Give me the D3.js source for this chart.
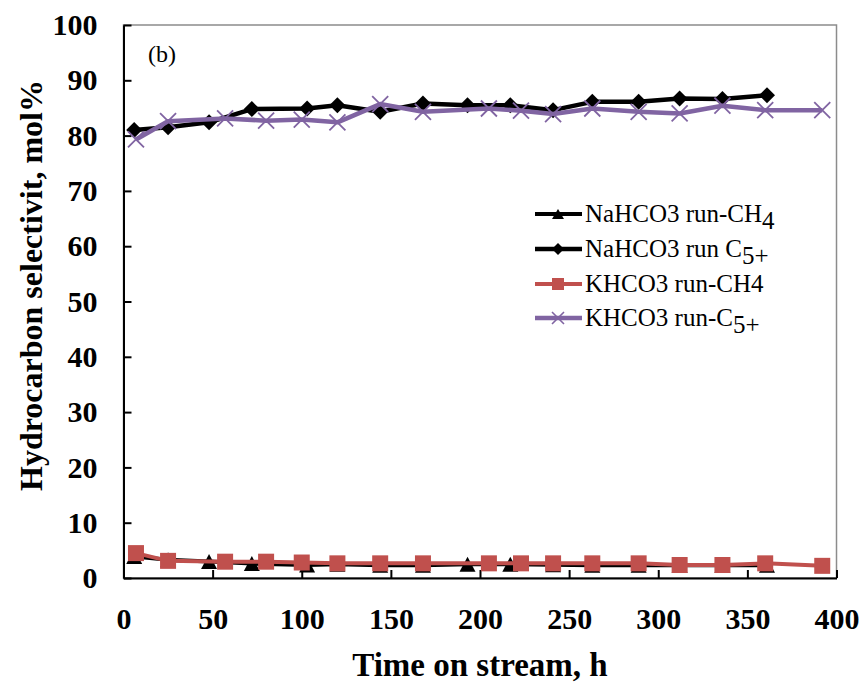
<!DOCTYPE html>
<html>
<head>
<meta charset="utf-8">
<script src="https://cdn.jsdelivr.net/npm/d3@7"></script>
<style>
  html, body { margin: 0; padding: 0; background: #fff; }
  svg { display: block; }
  text { font-family: "Liberation Serif", "Times New Roman", serif; }
</style>
</head>
<body>
<svg id="chart" width="864" height="682"></svg>
<script>
// Time on stream (h) for each run
const naTime = [6, 25, 48, 72, 103, 120, 144, 168, 193, 217, 241, 263, 289, 312, 336, 361];
const kTime  = [7, 25, 57, 80, 100, 120, 144, 168, 205, 223, 241, 263, 289, 312, 336, 360, 392];

// Hydrocarbon selectivity (mol%)
const naCH4 = [3.9, 3.3, 3.0, 2.6, 2.35, 2.5, 2.3, 2.3, 2.5, 2.5, 2.4, 2.3, 2.3, 2.3, 2.3, 2.3];
const naC5  = [81.0, 81.5, 82.4, 84.8, 84.9, 85.5, 84.3, 85.8, 85.5, 85.5, 84.6, 86.1, 86.1, 86.7, 86.6, 87.3];
const kCH4  = [4.5, 3.1, 2.95, 2.95, 2.8, 2.65, 2.65, 2.65, 2.65, 2.65, 2.65, 2.65, 2.65, 2.35, 2.35, 2.65, 2.2];
const kC5   = [79.3, 82.6, 83.1, 82.7, 82.9, 82.4, 85.7, 84.3, 84.9, 84.5, 83.9, 84.9, 84.3, 84.0, 85.4, 84.6, 84.6];

const xTicks = [0, 50, 100, 150, 200, 250, 300, 350, 400];
const yTicks = [0, 10, 20, 30, 40, 50, 60, 70, 80, 90, 100];

const svg = d3.select("#chart");
const plot = { left: 123.5, top: 25, right: 836.5, bottom: 578 };

const x = d3.scaleLinear().domain([0, 400]).range([plot.left, plot.right]);
const y = d3.scaleLinear().domain([0, 100]).range([plot.bottom, plot.top]);

// plot-area frame
svg.append("rect")
  .attr("x", plot.left).attr("y", plot.top)
  .attr("width", plot.right - plot.left).attr("height", plot.bottom - plot.top)
  .attr("fill", "none").attr("stroke", "#8c8c8c").attr("stroke-width", 1.5);

// axes with inward ticks
const yAxis = svg.append("g")
  .attr("transform", `translate(${plot.left},0)`)
  .call(d3.axisLeft(y).tickValues(yTicks).tickSizeInner(-8).tickSizeOuter(0).tickPadding(26));
const xAxis = svg.append("g")
  .attr("transform", `translate(0,${plot.bottom})`)
  .call(d3.axisBottom(x).tickValues(xTicks).tickSizeInner(-8).tickSizeOuter(0).tickPadding(30));

[yAxis, xAxis].forEach(g => {
  g.select(".domain").attr("stroke", "#000").attr("stroke-width", 2);
  g.selectAll(".tick line").attr("stroke", "#000").attr("stroke-width", 2);
  g.selectAll(".tick text")
    .attr("fill", "#000")
    .style("font-family", "'Liberation Serif', 'Times New Roman', serif")
    .style("font-size", "30px")
    .style("font-weight", "bold");
});

// axis titles
svg.append("text")
  .attr("x", (plot.left + plot.right) / 2).attr("y", 676)
  .attr("text-anchor", "middle")
  .style("font-size", "33px").style("font-weight", "bold")
  .text("Time on stream, h");
svg.append("text")
  .attr("transform", `translate(42,${(plot.top + plot.bottom) / 2 - 16}) rotate(-90)`)
  .attr("text-anchor", "middle")
  .style("font-size", "32px").style("font-weight", "bold")
  .text("Hydrocarbon selectivit, mol%");

// panel label
svg.append("text")
  .attr("x", 148).attr("y", 62)
  .style("font-size", "24px")
  .text("(b)");

// marker shapes
const marker = {
  triangle: (g, c) => g.append("path").attr("d", "M0,-7.5 L8,7.5 L-8,7.5 Z").attr("fill", c),
  diamond:  (g, c) => g.append("path").attr("d", "M0,-8 L8,0 L0,8 L-8,0 Z").attr("fill", c),
  square:   (g, c) => g.append("rect").attr("x", -8).attr("y", -8).attr("width", 16).attr("height", 16).attr("fill", c),
  cross:    (g, c) => g.append("path").attr("d", "M-8,-8 L8,8 M-8,8 L8,-8").attr("stroke", c).attr("stroke-width", 1.8).attr("fill", "none")
};

const series = [
  { name: "NaHCO3 run-CH", sub: "4", t: naTime, v: naCH4, color: "#000000", shape: "triangle", width: 4 },
  { name: "NaHCO3 run C", sub: "5+", t: naTime, v: naC5, color: "#000000", shape: "diamond", width: 4.5 },
  { name: "KHCO3 run-CH4", sub: "", t: kTime, v: kCH4, color: "#C0504D", shape: "square", width: 4 },
  { name: "KHCO3 run-C", sub: "5+", t: kTime, v: kC5, color: "#8064A2", shape: "cross", width: 4.5 }
];

const line = d3.line().x(d => x(d[0])).y(d => y(d[1]));

series.forEach(s => {
  const pts = s.t.map((t, i) => [t, s.v[i]]);
  const g = svg.append("g");
  g.append("path").datum(pts)
    .attr("d", line)
    .attr("fill", "none").attr("stroke", s.color)
    .attr("stroke-width", s.width).attr("stroke-linejoin", "round");
  pts.forEach(p => {
    const m = g.append("g").attr("transform", `translate(${x(p[0])},${y(p[1])})`);
    marker[s.shape](m, s.color);
  });
});

// legend
const legendRows = [214, 249, 284, 318];
series.forEach((s, i) => {
  const gy = legendRows[i];
  const g = svg.append("g");
  g.append("line").attr("x1", 535).attr("x2", 582).attr("y1", gy).attr("y2", gy)
    .attr("stroke", s.color).attr("stroke-width", s.width);
  const m = g.append("g").attr("transform", `translate(558,${gy})`);
  if (s.shape === "triangle") m.append("path").attr("d", "M0,-5 L6,5 L-6,5 Z").attr("fill", s.color);
  if (s.shape === "diamond") m.append("path").attr("d", "M0,-6 L6,0 L0,6 L-6,0 Z").attr("fill", s.color);
  if (s.shape === "square") m.append("rect").attr("x", -6).attr("y", -6).attr("width", 12).attr("height", 12).attr("fill", s.color);
  if (s.shape === "cross") m.append("path").attr("d", "M-6,-6 L6,6 M-6,6 L6,-6").attr("stroke", s.color).attr("stroke-width", 1.6);
  const t = g.append("text").attr("x", 585).attr("y", gy + 8).style("font-size", "25px").text(s.name);
  if (s.sub) t.append("tspan").attr("dy", 7).style("font-size", "25px").text(s.sub);
});
</script>
</body>
</html>
